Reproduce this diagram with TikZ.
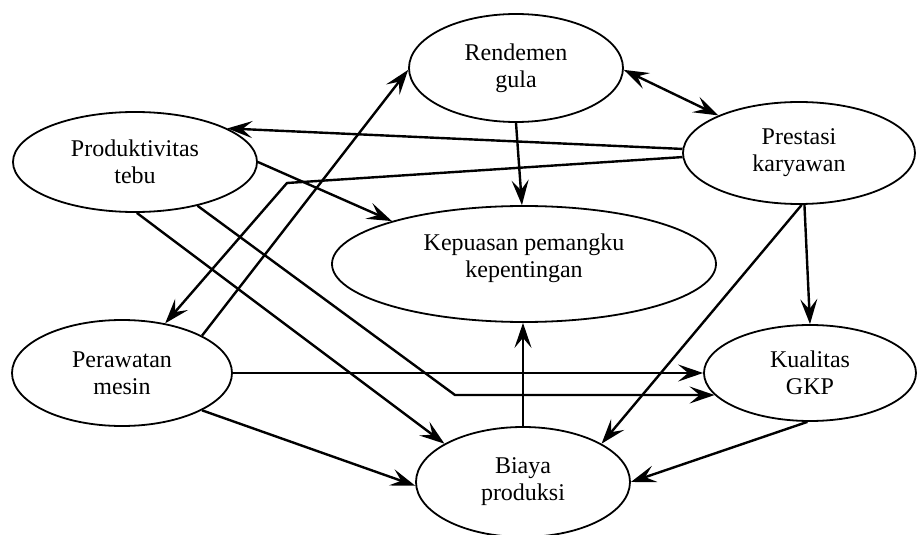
\documentclass[tikz,border=0pt]{standalone}
\usepackage{fontspec}
\setmainfont{Liberation Serif}
\usetikzlibrary{shapes.geometric,arrows.meta}
\begin{document}
\begin{tikzpicture}[x=0.5pt,y=-0.5pt,
  ell/.style={draw, ellipse, line width=0.9pt, inner sep=0pt, align=center,
    font=\fontsize{12}{13.5}\selectfont},
  conn/.style={line width=1.2pt, -{Stealth[length=12.5pt,width=8.5pt,inset=5pt]}},
  conntwo/.style={line width=1.2pt, {Stealth[length=12.5pt,width=8.5pt,inset=5pt]}-{Stealth[length=12.5pt,width=8.5pt,inset=5pt]}}]
\useasboundingbox (0,0) rectangle (917,535);
\node[ell, minimum width=107pt, minimum height=54pt] (R) at (516,68) {Rendemen\\gula};
\node[ell, minimum width=116pt, minimum height=51pt] (P) at (799,153) {Prestasi\\karyawan};
\node[ell, minimum width=122pt, minimum height=50pt] (T) at (135,162) {Produktivitas\\tebu};
\node[ell, minimum width=192pt, minimum height=58pt] (K) at (524,264) {Kepuasan pemangku\\kepentingan\\[-5pt]};
\node[ell, minimum width=110pt, minimum height=53pt] (M) at (122,373) {Perawatan\\mesin};
\node[ell, minimum width=106pt, minimum height=48pt] (G) at (810,373) {Kualitas\\GKP};
\node[ell, minimum width=107pt, minimum height=55pt] (B) at (523,482) {Biaya\\produksi};
\coordinate (c1) at (287,183);
\coordinate (c2) at (455,395);
\draw[conntwo] (R.-1) -- (P.155);
\draw[conn] (R.-90) -- (K.92);
\draw[conn] (P.178) -- (T.20);
\draw[conn] (P.182) -- (c1) -- (M.49);
\draw[conn] (M.25) -- (R.181);
\draw[conn] (T.0) -- (K.162);
\draw[conn] (T.-88) -- (B.154);
\draw[conn] (T.-35) -- (c2) -- (G.193);
\draw[conn] (M.east) -- (G.west);
\draw[conn] (M.-25) -- (B.182);
\draw[conn] (B.north) -- (B.north |- K.south);
\draw[conn] (P.-87) -- (B.26);
\draw[conn] (P.-84) -- (G.north);
\draw[conn] (G.-93) -- (B.east);
\end{tikzpicture}
\end{document}
